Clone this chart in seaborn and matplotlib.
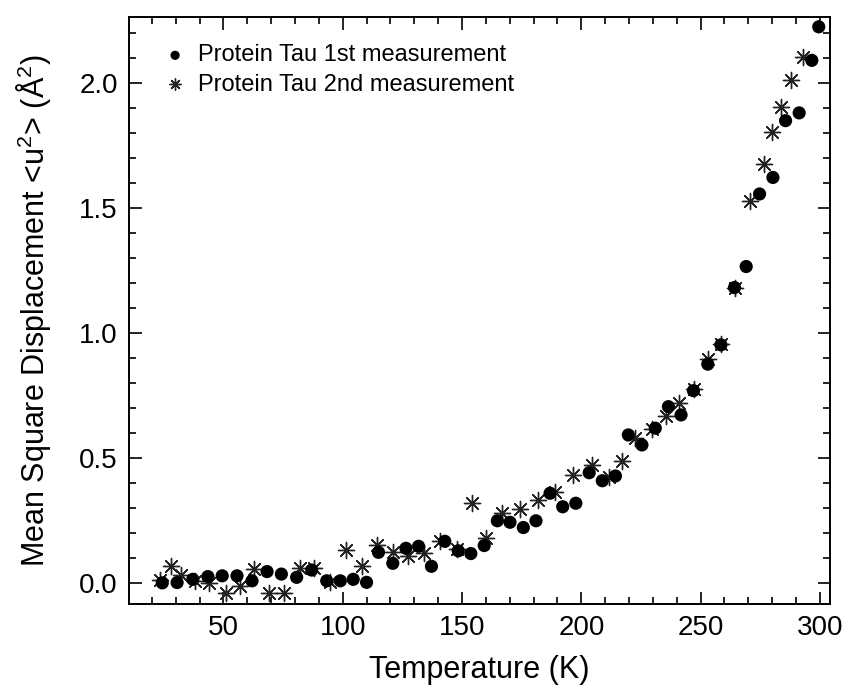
import matplotlib
matplotlib.use("Agg")
import matplotlib.pyplot as plt
from matplotlib.ticker import MultipleLocator
import seaborn as sns

# Protein Tau, first measurement (circles)
temp_1st = [24.4, 30.6, 37.2, 43.5, 49.5, 55.7, 62.0, 68.3, 74.3, 80.7,
            87.0, 93.3, 99.0, 104.4, 110.0, 115.0, 121.0, 126.5, 131.8, 137.2,
            142.8, 148.4, 153.7, 159.3, 164.8, 170.1, 175.7, 181.0, 186.9, 192.2,
            197.7, 203.3, 208.8, 214.3, 219.7, 225.4, 231.0, 236.5, 241.8, 247.0,
            253.0, 258.5, 264.2, 269.1, 274.7, 280.3, 285.6, 291.3, 296.6, 299.5]
msd_1st = [0.002, 0.003, 0.016, 0.027, 0.030, 0.030, 0.010, 0.047, 0.037, 0.024,
           0.053, 0.010, 0.010, 0.016, 0.004, 0.124, 0.080, 0.140, 0.148, 0.068,
           0.168, 0.130, 0.119, 0.151, 0.250, 0.244, 0.223, 0.250, 0.360, 0.306,
           0.320, 0.442, 0.410, 0.429, 0.593, 0.553, 0.620, 0.706, 0.673, 0.770,
           0.876, 0.953, 1.182, 1.266, 1.556, 1.622, 1.849, 1.880, 2.090, 2.224]

# Protein Tau, second measurement (asterisks)
temp_2nd = [23.4, 28.2, 32.4, 38.0, 44.0, 51.2, 57.0, 63.0, 69.1, 75.6,
            82.0, 88.0, 94.5, 101.4, 108.2, 114.5, 121.1, 127.3, 134.2, 140.8,
            147.8, 154.1, 159.9, 166.9, 174.3, 182.0, 189.0, 196.7, 204.4, 211.4,
            217.2, 222.6, 229.6, 235.4, 241.1, 247.2, 252.9, 258.6, 264.2, 270.8,
            276.6, 280.1, 283.6, 287.8, 292.7]
msd_2nd = [0.013, 0.069, 0.033, 0.008, 0.000, -0.040, -0.012, 0.056, -0.038, -0.038,
           0.060, 0.060, 0.004, 0.133, 0.071, 0.153, 0.126, 0.108, 0.120, 0.170,
           0.138, 0.320, 0.182, 0.281, 0.296, 0.333, 0.366, 0.433, 0.473, 0.426,
           0.489, 0.582, 0.616, 0.669, 0.720, 0.776, 0.896, 0.956, 1.180, 1.529,
           1.676, 1.802, 1.904, 2.013, 2.104]

sns.set_style("ticks")
plt.rcParams['font.family'] = ['Liberation Sans', 'DejaVu Sans']
plt.rcParams['mathtext.fontset'] = 'custom'
plt.rcParams['mathtext.rm'] = 'Liberation Sans'
plt.rcParams['mathtext.it'] = 'Liberation Sans'
plt.rcParams['text.color'] = 'black'
plt.rcParams['axes.labelcolor'] = 'black'
plt.rcParams['xtick.color'] = 'black'
plt.rcParams['ytick.color'] = 'black'

fig, ax = plt.subplots(figsize=(8.48, 7.0), dpi=100)
fig.subplots_adjust(left=0.152, right=0.979, top=0.976, bottom=0.137)

sns.scatterplot(x=temp_1st, y=msd_1st, ax=ax, marker="o", s=90, color="black",
                edgecolor="none", label="Protein Tau 1st measurement", zorder=3)
sns.scatterplot(x=temp_2nd, y=msd_2nd, ax=ax, marker=(8, 2, 0), s=135, color="#222222",
                linewidth=1.0, label="Protein Tau 2nd measurement", zorder=2)

ax.set_xlim(10.4, 304.3)
ax.set_ylim(-0.083, 2.264)

ax.xaxis.set_major_locator(MultipleLocator(50))
ax.xaxis.set_minor_locator(MultipleLocator(10))
ax.yaxis.set_major_locator(MultipleLocator(0.5))
ax.yaxis.set_minor_locator(MultipleLocator(0.1))
ax.yaxis.set_major_formatter(plt.FormatStrFormatter('%.1f'))

ax.tick_params(which="both", direction="in", top=True, right=True, width=1.2)
ax.tick_params(which="major", length=9, labelsize=20, pad=8)
ax.tick_params(which="minor", length=5)
for sp in ax.spines.values():
    sp.set_linewidth(1.4)
    sp.set_color("black")

ax.set_xlabel("Temperature (K)", fontsize=22, labelpad=10)
ax.set_ylabel(r"Mean Square Displacement <u$^2$> (Å$^2$)", fontsize=22, labelpad=19)

plt.legend(loc="upper left", bbox_to_anchor=(0.012, 0.985), frameon=False, fontsize=17,
           markerscale=0.7, handlelength=1.6, handletextpad=0.15, labelspacing=0.3,
           borderpad=0.3)

plt.savefig("out.png", dpi=100)
